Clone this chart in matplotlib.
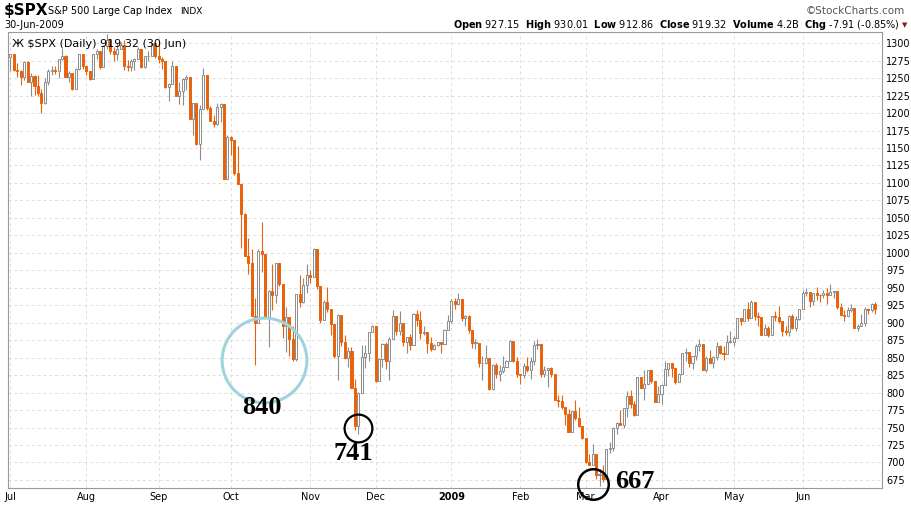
import numpy as np
import matplotlib.pyplot as plt

# daily closes / highs / lows, Jul 2008 .. Jun 2009 (trading days)
close_m = [
    [1284,1262,1260,1252,1273,1244,1253,1239,1228,1215,1245,1260,1261,1260,1277,1282,1252,1257,1234,1263,1284,1267],
    [1260,1249,1284,1289,1266,1296,1305,1289,1285,1292,1298,1267,1266,1274,1277,1292,1266,1281,1282,1300,1282],
    [1277,1274,1237,1242,1267,1224,1232,1249,1251,1192,1214,1156,1206,1255,1207,1188,1185,1209,1213,1106,1166],
    [1161,1114,1099,1056,996,985,910,899,1003,998,908,946,940,985,955,896,908,876,848,941,930,954,968],
    [966,1005,952,904,930,919,898,852,911,873,850,859,806,752,800,851,857,887,896],
    [816,848,870,845,876,909,888,899,873,879,868,913,904,885,887,871,863,868,873,869,890,903],
    [931,927,934,907,910,890,871,871,842,843,850,805,840,827,831,836,845,874,845,826],
    [825,838,832,845,868,869,827,833,835,826,789,788,779,770,743,773,764,752,735],
    [700,696,712,682,683,676,720,721,750,757,753,778,795,784,768,823,806,813,832,816,787,798],
    [811,834,843,835,815,826,857,858,842,852,866,870,832,850,843,851,866,857,855,873,873],
    [878,907,903,919,907,929,909,908,883,893,882,909,908,903,888,887,910,893,906,919],
    [942,944,931,942,940,939,942,939,944,946,923,911,910,918,921,893,895,900,920,918,927,919.32],
]
high_m = [
    [1285,1285,1272,1262,1275,1274,1257,1254,1255,1234,1250,1263,1268,1267,1278,1291,1283,1260,1257,1264,1285,1284],
    [1268,1260,1285,1292,1289,1297,1313,1304,1294,1300,1301,1304,1276,1277,1279,1294,1292,1282,1289,1300,1300],
    [1303,1280,1274,1243,1274,1268,1244,1250,1255,1250,1214,1214,1211,1265,1255,1210,1197,1215,1215,1210,1169],
    [1167,1161,1153,1099,1057,1021,1005,936,1006,1044,995,947,984,985,985,955,922,896,895,941,969,964,984],
    [976,1007,1005,952,932,951,917,898,913,904,883,865,865,820,801,868,868,887,897],
    [896,850,871,873,879,918,907,917,898,880,884,914,918,917,895,887,880,870,873,873,891,911],
    [934,936,943,927,911,911,888,877,866,852,868,850,841,843,839,852,847,875,874,851],
    [826,842,851,851,874,877,868,838,835,837,821,797,797,779,777,775,790,779,751],
    [735,712,727,709,690,696,720,730,751,758,775,778,803,804,788,823,823,832,833,831,816,810],
    [813,845,843,843,835,828,857,864,857,853,870,876,869,853,861,852,872,868,866,882,888],
    [881,907,907,920,930,932,922,916,906,898,896,910,917,924,902,896,911,913,909,920],
    [947,949,942,942,951,941,947,949,956,946,942,928,918,923,927,918,898,913,922,921,928,930.01],
]
low_m = [
    [1260,1260,1252,1240,1248,1244,1225,1226,1225,1200,1213,1240,1255,1256,1250,1276,1251,1245,1233,1235,1262,1263],
    [1254,1247,1249,1277,1263,1266,1291,1285,1274,1276,1292,1262,1260,1260,1261,1277,1264,1265,1274,1282,1279],
    [1272,1263,1236,1217,1242,1224,1213,1212,1233,1192,1169,1155,1133,1206,1205,1188,1180,1183,1187,1106,1106],
    [1140,1111,1098,1007,996,970,909,839,899,972,908,865,918,928,952,878,858,853,845,845,922,928,942],
    [957,966,948,899,906,916,883,850,818,866,848,837,806,747,741,800,835,845,887],
    [815,818,836,834,818,877,882,883,867,857,861,868,895,877,882,857,860,861,866,857,870,889],
    [899,919,927,902,896,885,864,862,836,818,841,804,804,821,817,828,836,845,844,822],
    [812,821,829,819,840,862,822,823,808,822,789,780,777,754,743,745,761,751,734],
    [699,696,698,677,667,672,676,714,717,741,753,749,765,778,766,772,806,790,814,814,786,790],
    [784,814,824,822,813,815,826,845,836,834,847,860,832,830,842,835,847,855,846,855,871],
    [866,879,897,903,902,907,904,895,882,882,879,886,903,899,881,883,881,891,888,904],
    [923,938,923,926,932,929,935,927,939,935,919,911,903,910,915,893,888,897,896,913,916,912.86],
]
month_labels = ["Jul", "Aug", "Sep", "Oct", "Nov", "Dec", "2009", "Feb", "Mar", "Apr", "May", "Jun"]
first_open = 1280
y_ticks = list(range(675, 1301, 25))

closes = np.concatenate([np.array(m, float) for m in close_m])
highs = np.concatenate([np.array(m, float) for m in high_m])
lows = np.concatenate([np.array(m, float) for m in low_m])
opens = np.concatenate([[first_open], closes[:-1]])
month_starts = np.cumsum([0] + [len(m) for m in close_m[:-1]])

fig = plt.figure(figsize=(9.12, 5.09), dpi=100)
ax = fig.add_axes([8/912, 21/509, 874/912, 456/509])

orange = "#e8620c"
gray = "#8c8c8c"
w = 0.6
for i in range(len(closes)):
    o, c, h, l = opens[i], closes[i], highs[i], lows[i]
    up = c >= o
    col = gray if up else orange
    ax.vlines(i, l, h, color=col, lw=0.8, zorder=2)
    lo_b, hi_b = min(o, c), max(o, c)
    if hi_b - lo_b < 0.8:
        hi_b = lo_b + 0.8
    ax.add_patch(plt.Rectangle((i - w/2, lo_b), w, hi_b - lo_b,
                               facecolor="white" if up else orange,
                               edgecolor=col, lw=0.7, zorder=3))

ax.set_xlim(-0.7, 253)
ax.set_ylim(663.5, 1316)
ax.yaxis.tick_right()
ax.set_yticks(y_ticks)
ax.set_yticklabels([str(v) for v in y_ticks], fontsize=7)
ax.set_xticks(month_starts)
ax.set_xticklabels(month_labels, fontsize=7)
for lab in ax.get_xticklabels():
    if lab.get_text() == "2009":
        lab.set_fontweight("bold")
ax.tick_params(length=0, pad=3)
ax.grid(True, color="#dddddd", ls=(0, (3, 3)), lw=0.7)
for s in ax.spines.values():
    s.set_color("#999999")
    s.set_linewidth(0.8)

# annotation circles and labels
ax.plot([73.5], [847], "o", ms=61, mfc="none", mec="#9fd4dc", mew=2.2, zorder=5, clip_on=False)
ax.plot([101], [749], "o", ms=20, mfc="none", mec="black", mew=1.6, zorder=5, clip_on=False)
ax.plot([169], [669], "o", ms=22, mfc="none", mec="black", mew=1.8, zorder=5, clip_on=False)
ann = dict(fontsize=19, fontweight="bold", family="Liberation Serif", zorder=6)
ax.text(73, 778, "840", ha="center", va="center", **ann)
ax.text(99.5, 713, "741", ha="center", va="center", **ann)
ax.text(175.5, 673, "667", ha="left", va="center", **ann)

ax.text(0.005, 0.985, "\u0416 $SPX (Daily) 919.32 (30 Jun)", transform=ax.transAxes,
        fontsize=8, va="top", ha="left")

fig.text(4/912, 1 - 11/509, "$SPX", fontsize=11, fontweight="bold", va="center")
fig.text(48/912, 1 - 11/509, "S&P 500 Large Cap Index", fontsize=7, va="center")
fig.text(180/912, 1 - 11/509, "INDX", fontsize=6.5, va="center")
fig.text(4/912, 1 - 25/509, "30-Jun-2009", fontsize=7, va="center")
fig.text(905/912, 1 - 11/509, "\u00a9StockCharts.com", fontsize=7.5, va="center", ha="right", color="#555555")
fig.text(900/912, 1 - 25/509,
         r"$\bf{Open}$ 927.15  $\bf{High}$ 930.01  $\bf{Low}$ 912.86  $\bf{Close}$ 919.32  $\bf{Volume}$ 4.2B  $\bf{Chg}$ -7.91 (-0.85%)",
         fontsize=7, va="center", ha="right")
fig.text(902/912, 1 - 25/509, "\u25bc", fontsize=5, va="center", ha="left", color="#8b1a1a")

fig.savefig("out.png", dpi=100)
